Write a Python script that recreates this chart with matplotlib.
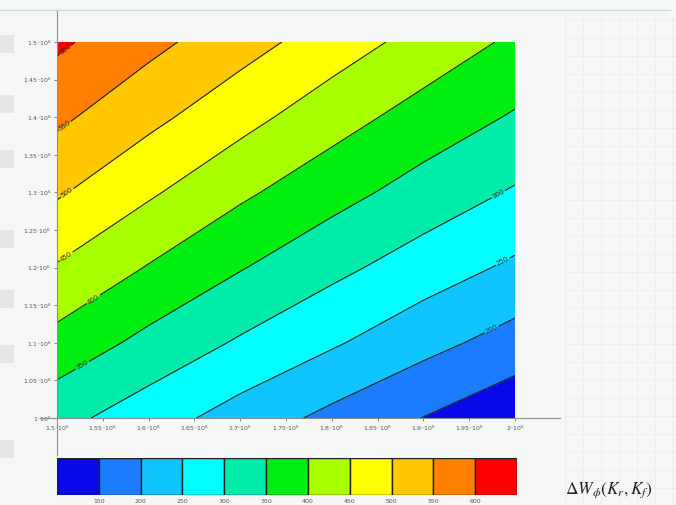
import numpy as np
import matplotlib
matplotlib.use("Agg")
import matplotlib.pyplot as plt
from matplotlib.colors import ListedColormap, BoundaryNorm
from matplotlib.lines import Line2D

# grid of K values (x: K_r, y: K_f)
k_r = [1.5e6, 1.6e6, 1.7e6, 1.8e6, 1.9e6, 2.0e6]
k_f = [1.0e6, 1.1e6, 1.2e6, 1.3e6, 1.4e6, 1.5e6]

# dW values, rows = k_f, cols = k_r
dW = [
    [316, 273, 229, 187, 149, 111],
    [383, 336, 294, 256, 216, 180],
    [446, 397, 353, 313, 276, 241],
    [506, 457, 409, 368, 330, 295],
    [560, 513, 467, 421, 380, 345],
    [609, 564, 520, 476, 432, 391],
]

levels = [100, 150, 200, 250, 300, 350, 400, 450, 500, 550, 600, 650]
bar_labels = ['150', '200', '250', '300', '350', '400', '450', '500', '550', '600']
x_ticks = [1.5, 1.55, 1.6, 1.65, 1.7, 1.75, 1.8, 1.85, 1.9, 1.95, 2.0]
y_ticks = [1.0, 1.05, 1.1, 1.15, 1.2, 1.25, 1.3, 1.35, 1.4, 1.45, 1.5]

colors = ['#0808e8', '#1c7cff', '#10c4ff', '#00ffff', '#00ecaa', '#00ee10',
          '#a8ff00', '#ffff00', '#ffc800', '#ff8000', '#ff0000']
cmap = ListedColormap(colors)
norm = BoundaryNorm(levels, cmap.N)

bg = '#f5f7f7'
fig = plt.figure(figsize=(6.76, 5.05), dpi=100, facecolor=bg)

# faint worksheet grid on the right
for gx in range(565, 676, 18):
    fig.add_artist(Line2D([gx / 676, gx / 676], [0.0, 0.97], color='#e8ecec', lw=0.5))
for gy in range(20, 505, 18):
    fig.add_artist(Line2D([565 / 676, 1.0], [1 - gy / 505, 1 - gy / 505], color='#e8ecec', lw=0.5))

# page artefacts on left edge
for gy in [35, 95, 150, 230, 290, 345, 440]:
    fig.add_artist(plt.Rectangle((0, 1 - (gy + 18) / 505), 14 / 676, 18 / 505,
                                 color='#e4e6e6', lw=0))

ax = fig.add_axes([57 / 676, 1 - 418 / 505, 458 / 676, 376 / 505])
ax.set_facecolor(bg)
X, Y = np.meshgrid(k_r, k_f)
Z = np.array(dW, dtype=float)
ax.contourf(X, Y, Z, levels=levels, cmap=cmap, norm=norm)
cs = ax.contour(X, Y, Z, levels=levels[1:-1], colors='#202020', linewidths=0.8)

def px2data(px, py):
    return (1.5e6 + (px - 57) / 458 * 0.5e6, 1.0e6 + (418 - py) / 376 * 0.5e6)

label_spots = [px2data(*p) for p in [(70, 55), (68, 130), (70, 197), (70, 262),
                                     (97, 305), (85, 370), (500, 197), (503, 262),
                                     (492, 330)]]
ax.clabel(cs, manual=label_spots, fontsize=5, colors='#303030', inline=True,
          inline_spacing=1, fmt='%d')

ax.set_xlim(1.5e6, 2.0e6)
ax.set_ylim(1.0e6, 1.5e6)
ax.set_xticks([v * 1e6 for v in x_ticks])
ax.set_yticks([v * 1e6 for v in y_ticks])
ax.set_xticklabels([r'$%g\!\cdot\!10^{6}$' % v for v in x_ticks])
ax.set_yticklabels([r'$%g\!\cdot\!10^{6}$' % v for v in y_ticks])
ax.tick_params(labelsize=4.5, colors='#555555', length=2, width=0.5, pad=2)
for s in ax.spines.values():
    s.set_visible(False)

# mathcad style axes lines
fig.add_artist(Line2D([57 / 676, 57 / 676], [1 - 455 / 505, 1 - 10 / 505], color='#8a9090', lw=0.8))
fig.add_artist(Line2D([40 / 676, 560 / 676], [1 - 418 / 505, 1 - 418 / 505], color='#8a9090', lw=0.8))
fig.add_artist(Line2D([0.0, 670 / 676], [1 - 10 / 505, 1 - 10 / 505], color='#cfd4d4', lw=0.8))

# colour bar
cax = fig.add_axes([57 / 676, 1 - 495 / 505, 460 / 676, 37 / 505])
cax.bar(range(len(colors)), [1] * len(colors), width=1.0, color=colors,
        edgecolor='#202020', linewidth=1.0, align='edge')
cax.set_xlim(0, len(colors))
cax.set_ylim(0, 1)
cax.set_yticks([])
cax.set_xticks(range(1, len(colors)))
cax.set_xticklabels(bar_labels)
cax.tick_params(labelsize=4.5, colors='#555555', length=0, pad=3)
for s in cax.spines.values():
    s.set_visible(False)

fig.text(565 / 676, 1 - 494 / 505, r'$\Delta W_{\phi}(K_r,K_f)$', fontsize=12.5,
         math_fontfamily='stix', color='#222222')

fig.savefig('out.png', dpi=100, facecolor=bg)
